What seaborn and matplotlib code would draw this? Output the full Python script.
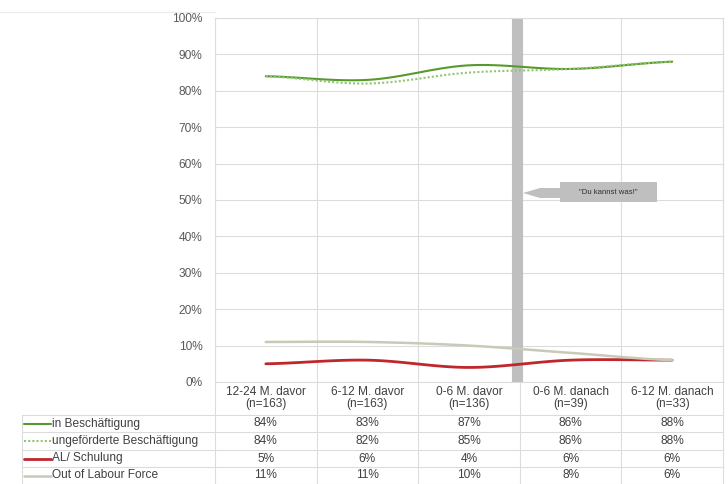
import numpy as np
import pandas as pd
import matplotlib.pyplot as plt
import seaborn as sns
from matplotlib.patches import Polygon

# ---- data ----
CATEGORIES = ['12-24 M. davor', '6-12 M. davor', '0-6 M. davor', '0-6 M. danach', '6-12 M. danach']
N_VALUES = [163, 163, 136, 39, 33]
SERIES = ['in Beschäftigung', 'ungeförderte Beschäftigung', 'AL/ Schulung', 'Out of Labour Force']
IN_BESCH = [84, 83, 87, 86, 88]
UNGEF = [84, 82, 85, 86, 88]
AL_SCHUL = [5, 6, 4, 6, 6]
OLF = [11, 11, 10, 8, 6]
Y_TICKS = list(range(0, 101, 10))
ANNOTATION = '"Du kannst was!"'

COLORS = ['#569a2e', '#93c572', '#c0272d', '#c9c9b8']
STYLES = ['-', (0, (1, 1)), '-', '-']
WIDTHS = [1.5, 1.5, 2.0, 1.8]

sns.set_theme(style='white')
plt.rcParams['font.family'] = ['Liberation Sans', 'DejaVu Sans']
TXT = '#404040'
FS = 8.6


def smooth(values, steps=30):
    """Catmull-Rom curve through the points, like Excel's smoothed lines."""
    p = np.asarray(values, float)
    pad = np.r_[p[0], p, p[-1]]
    xs, ys = [], []
    for i in range(len(p) - 1):
        p0, p1, p2, p3 = pad[i:i + 4]
        t = np.linspace(0, 1, steps, endpoint=(i == len(p) - 2))
        ys.append(0.5 * (2 * p1 + (-p0 + p2) * t + (2 * p0 - 5 * p1 + 4 * p2 - p3) * t ** 2
                         + (-p0 + 3 * p1 - 3 * p2 + p3) * t ** 3))
        xs.append(i + t)
    return np.concatenate(xs), np.concatenate(ys)


W, H = 728, 484
L, R, T, B = 215, 723, 18, 382   # plot area in pixels
col_w = (R - L) / len(CATEGORIES)


def px(x, y):
    """pixel position -> data coords of the main axes"""
    return (x - L) / col_w - 0.5, (B - y) / (B - T) * 100


fig = plt.figure(figsize=(W / 100, H / 100), dpi=100)
ax = fig.add_axes([L / W, 1 - B / H, (R - L) / W, (B - T) / H])

# faint outer chart border line at the top
fig.add_artist(plt.Line2D([0, L / W], [1 - 12 / H, 1 - 12 / H], color='#ececec', lw=0.8))

# vertical marker bar
ax.axvline(px(517, 0)[0], color='#bfbfbf', lw=8, zorder=1)

values = [IN_BESCH, UNGEF, AL_SCHUL, OLF]
for name, vals, c, ls, lw in zip(SERIES, values, COLORS, STYLES, WIDTHS):
    xs, ys = smooth(vals)
    df = pd.DataFrame({'x': xs, 'y': ys})
    sns.lineplot(data=df, x='x', y='y', ax=ax, color=c, lw=lw, linestyle=ls,
                 sort=False, estimator=None, zorder=3)

ax.set_xlim(-0.5, len(CATEGORIES) - 0.5)
ax.set_ylim(0, 100)
ax.set_yticks(Y_TICKS)
ax.set_yticklabels([f'{v}%' for v in Y_TICKS], fontsize=FS, color='#595959')
ax.set_xticks(np.arange(-0.5, len(CATEGORIES)))
ax.set_xticklabels([])
ax.tick_params(length=0, pad=9)
ax.grid(True, color='#dcdcdc', lw=0.8)
ax.set_xlabel('')
ax.set_ylabel('')
for s in ax.spines.values():
    s.set_color('#dcdcdc')
    s.set_linewidth(0.8)

# callout box with pointer towards the bar
shape = [(560, 182), (657, 182), (657, 202), (560, 202), (560, 198), (540, 198),
         (523, 193), (540, 188), (560, 188)]
ax.add_patch(Polygon([px(*p) for p in shape], closed=True, fc='#bfbfbf', ec='none',
                     zorder=4, clip_on=False))
cx, cy = px(608, 192)
ax.text(cx, cy, ANNOTATION, ha='center', va='center', fontsize=5.6, color='#303030', zorder=5)

# ---- data table below the chart ----
tab = fig.add_axes([0, 0, 1, 1 - B / H])
tab.set_xlim(0, W)
tab.set_ylim(H, B)
tab.axis('off')
centers = [L + (i + 0.5) * col_w for i in range(len(CATEGORIES))]
row_y = [415, 432, 450, 467, 484]
line_kw = dict(color='#dcdcdc', lw=0.8)
for y in row_y:
    tab.plot([22, R], [y, y], **line_kw)
tab.plot([22, 22], [415, H], **line_kw)
for i in range(len(CATEGORIES) + 1):
    x = L + i * col_w
    tab.plot([x, x], [B, H], **line_kw)

for cx, cat, n in zip(centers, CATEGORIES, N_VALUES):
    tab.text(cx, 398, f'{cat}\n(n={n})', ha='center', va='center', fontsize=FS,
             color=TXT, linespacing=1.1)

for r, (name, vals, c, ls, lw) in enumerate(zip(SERIES, values, COLORS, STYLES, WIDTHS)):
    yc = (row_y[r] + row_y[r + 1]) / 2
    tab.plot([24, 51], [yc, yc], color=c, lw=lw, linestyle=ls)
    tab.text(52, yc, name, ha='left', va='center', fontsize=FS, color=TXT)
    for cx, v in zip(centers, vals):
        tab.text(cx, yc, f'{v}%', ha='center', va='center', fontsize=FS, color=TXT)

fig.savefig('out.png', dpi=100)
